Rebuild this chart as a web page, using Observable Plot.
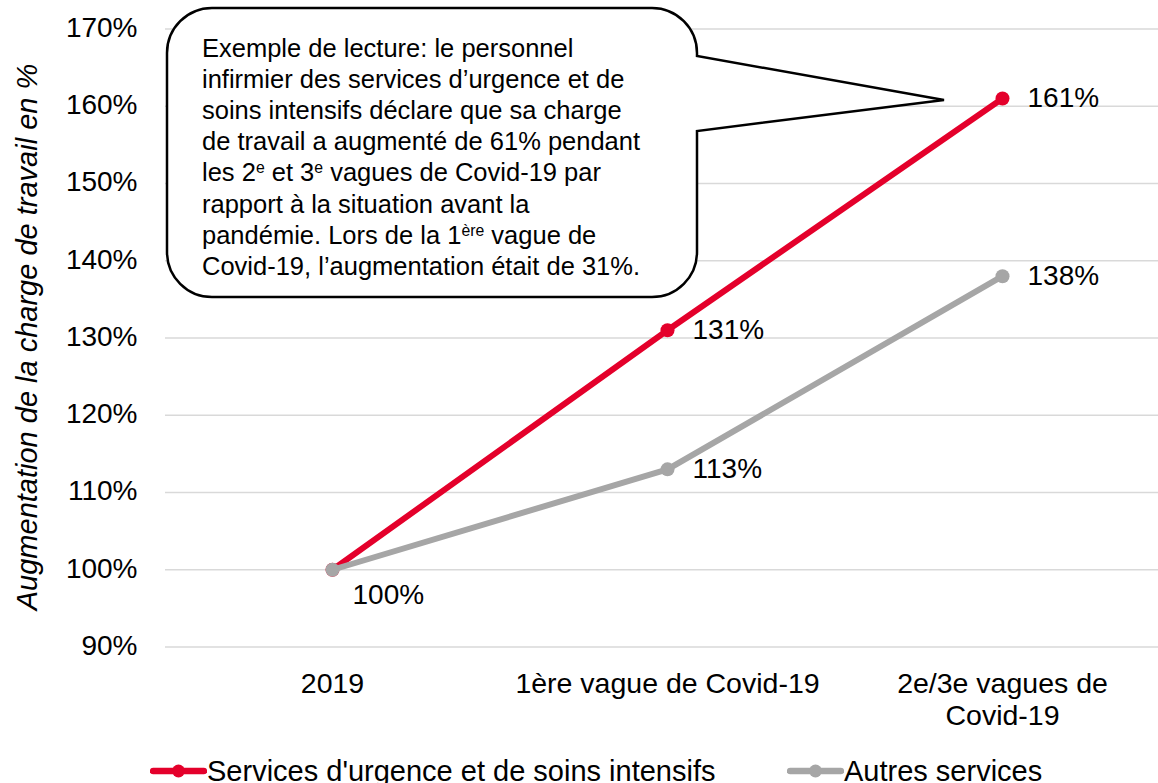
<!DOCTYPE html>
<html>
<head>
<meta charset="utf-8">
<script src="https://cdn.jsdelivr.net/npm/d3@7"></script>
<script src="https://cdn.jsdelivr.net/npm/@observablehq/plot@0.6"></script>
<style>
  html, body { margin: 0; padding: 0; background: #fff; }
  body { width: 1158px; height: 783px; overflow: hidden; position: relative;
         font-family: "Liberation Sans", Arial, sans-serif; color: #000; }
  #chart svg { display: block; }
  #legend { position: absolute; left: 0; top: 749px; width: 1158px; height: 44px; font-size: 29px; }
  .item { position: absolute; top: 0; height: 44px; display: flex; align-items: center; white-space: nowrap; }
  .item svg { display: block; }
</style>
</head>
<body>
<div id="chart"></div>
<div id="legend"></div>
<script>
// ---- data ----
const categories = ["2019", "1ère vague de Covid-19", "2e/3e vagues de Covid-19"];
const categoryLabels = ["2019", "1ère vague de Covid-19", "2e/3e vagues de\nCovid-19"];
const seriesNames = ["Services d'urgence et de soins intensifs", "Autres services"];
const urgenceValues = [100, 131, 161];
const autresValues = [100, 113, 138];
const yTicks = [90, 100, 110, 120, 130, 140, 150, 160, 170];
const seriesColors = ["#e4002b", "#a6a6a6"];
const yTitle = "Augmentation de la charge de travail en %";
const annotationLines = [
  [["Exemple de lecture: le personnel"]],
  [["infirmier des services d’urgence et de"]],
  [["soins intensifs déclare que sa charge"]],
  [["de travail a augmenté de 61% pendant"]],
  [["les 2"], ["e", true], [" et 3"], ["e", true], [" vagues de Covid-19 par"]],
  [["rapport à la situation avant la"]],
  [["pandémie. Lors de la 1"], ["ère", true], [" vague de"]],
  [["Covid-19, l’augmentation était de 31%."]]
];

const seriesValues = [urgenceValues, autresValues];
const rows = seriesNames.flatMap((s, si) =>
  categories.map((c, ci) => ({series: s, category: c, value: seriesValues[si][ci]})));

// ---- chart ----
const W = 1158, H = 750;
const font = "Liberation Sans, Arial, sans-serif";

const seriesMarks = seriesNames.flatMap(s => {
  const d = rows.filter(r => r.series === s);
  return [
    Plot.line(d, {x: "category", y: "value", stroke: "series", strokeWidth: 6, strokeLinejoin: "round"}),
    Plot.dot(d, {x: "category", y: "value", fill: "series", r: 7})
  ];
});

const plot = Plot.plot({
  width: W, height: H,
  marginLeft: 165, marginRight: 0, marginTop: 28.5, marginBottom: H - 646.5,
  x: {type: "point", domain: categories, range: [332, 1002], padding: 0, axis: null},
  y: {domain: [90, 170], axis: null},
  color: {domain: seriesNames, range: seriesColors},
  style: {fontFamily: font, color: "#000", background: "#fff", overflow: "visible"},
  marks: [
    Plot.ruleY(yTicks, {stroke: "#d9d9d9", strokeWidth: 1.5}),
    Plot.text(yTicks, {y: d => d, text: d => `${d}%`, frameAnchor: "left", textAnchor: "end",
                       dx: -28, dy: -1, fontSize: 28, fill: "#000"}),
    Plot.text(categories, {x: d => d, text: (d, i) => categoryLabels[i], frameAnchor: "bottom",
                           lineAnchor: "top", dy: 23.5, fontSize: 28.5, lineHeight: 1.12, fill: "#000"}),
    ...seriesMarks,
    Plot.text(rows.filter(r => r.category !== categories[0]),
              {x: "category", y: "value", text: d => `${d.value}%`, textAnchor: "start",
               dx: 25, fontSize: 28, fill: "#000"}),
    Plot.text(rows.filter(r => r.category === categories[0] && r.series === seriesNames[0]),
              {x: "category", y: "value", text: d => `${d.value}%`, textAnchor: "start",
               dx: 20, dy: 25, fontSize: 28, fill: "#000"})
  ]
});

const svg = d3.select(plot);

// y axis title
svg.append("text")
  .attr("transform", "translate(37,337) rotate(-90)")
  .attr("text-anchor", "middle")
  .attr("font-family", font)
  .attr("font-style", "italic")
  .attr("font-size", 29)
  .attr("fill", "#000")
  .text(yTitle);

// callout annotation
const x0 = 167, y0 = 8, x1 = 697, y1 = 297, r = 45;
const tipX = 944, tipY = 100, baseTop = 56, baseBot = 131;
const path = `M${x0 + r},${y0} H${x1 - r} A${r},${r} 0 0 1 ${x1},${y0 + r} V${baseTop} L${tipX},${tipY} L${x1},${baseBot} ` +
  `V${y1 - r} A${r},${r} 0 0 1 ${x1 - r},${y1} H${x0 + r} A${r},${r} 0 0 1 ${x0},${y1 - r} V${y0 + r} A${r},${r} 0 0 1 ${x0 + r},${y0} Z`;
const callout = svg.append("g");
callout.append("path").attr("d", path).attr("fill", "#fff").attr("stroke", "#000")
  .attr("stroke-width", 2.5).attr("stroke-linejoin", "miter");
const t = callout.append("text")
  .attr("text-anchor", "start")
  .attr("font-family", font).attr("font-size", 25.5).attr("fill", "#000");
annotationLines.forEach((segs, li) => {
  const line = t.append("tspan").attr("x", 202).attr("y", 56.5 + li * 31.2);
  segs.forEach(([txt, sup]) => {
    const sp = line.append("tspan").text(txt);
    if (sup) sp.attr("font-size", "62%").attr("baseline-shift", "super");
  });
});

document.getElementById("chart").appendChild(plot);

// ---- legend ----
const legend = d3.select("#legend");
const legendLeft = [150, 787];
seriesNames.forEach((s, i) => {
  const item = legend.append("div").attr("class", "item").style("left", legendLeft[i] + "px");
  const sw = item.append("svg").attr("width", 57).attr("height", 16);
  sw.append("line").attr("x1", 3).attr("x2", 54).attr("y1", 8).attr("y2", 8)
    .attr("stroke", seriesColors[i]).attr("stroke-width", 6.5).attr("stroke-linecap", "round");
  sw.append("circle").attr("cx", 28.5).attr("cy", 8).attr("r", 6.5).attr("fill", seriesColors[i]);
  item.append("span").text(s);
});
</script>
</body>
</html>
